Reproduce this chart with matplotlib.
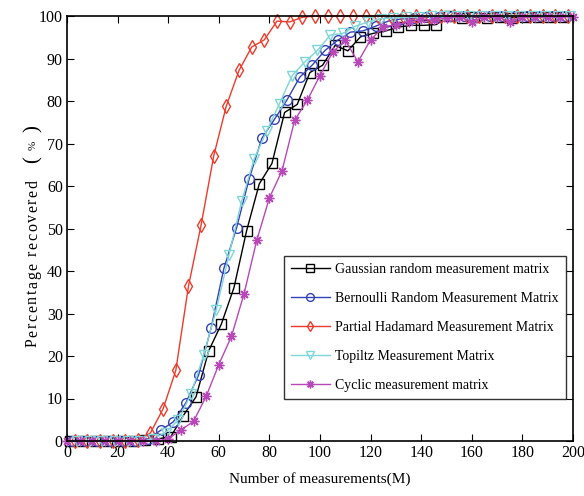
import matplotlib
matplotlib.use("Agg")
import matplotlib.pyplot as plt
from matplotlib.transforms import IdentityTransform

# ── data ────────────────────────────────────────────────────────────────────
m_gauss = [1, 6, 11, 16, 21, 26, 31, 36, 41, 46, 51, 56, 61, 66, 71, 76, 81, 86, 91, 96,
           101, 106, 111, 116, 121, 126, 131, 136, 141, 146, 151, 156, 161, 166, 171, 176,
           181, 186, 191, 196]
gauss = [0, 0, 0, 0, 0, 0, 0.3, 0.5, 1, 6, 10.4, 21.2, 27.5, 36.1, 49.5, 60.5, 65.3, 77.3,
         79.2, 86.7, 88.4, 93.1, 91.8, 95.1, 95.9, 96.5, 97.4, 97.8, 97.8, 98, 100, 99.6,
         99.8, 99.6, 99.8, 99.6, 99.8, 99.8, 99.8, 99.8]

m_bern = [2, 7, 12, 17, 22, 27, 32, 37, 42, 47, 52, 57, 62, 67, 72, 77, 82, 87, 92, 97,
          102, 107, 112, 117, 122, 127, 132, 137, 142, 147, 152, 157, 162, 167, 172, 177,
          182, 187, 192, 197]
bern = [0, 0, 0, 0, 0, 0, 0.5, 2.5, 4.5, 9, 15.5, 26.7, 40.6, 50.1, 61.7, 71.2, 75.7, 80.3,
        85.6, 88.5, 91.9, 94.3, 96.2, 96.5, 97.6, 98.8, 99.3, 99.5, 99.7, 99.7, 100, 100,
        99.7, 100, 100, 100, 100, 100, 100, 100]

m_hada = [3, 8, 13, 18, 23, 28, 33, 38, 43, 48, 53, 58, 63, 68, 73, 78, 83, 88, 93, 98,
          103, 108, 113, 118, 123, 128, 133, 138, 143, 148, 153, 158, 163, 168, 173, 178,
          183, 188, 193, 198]
hada = [0, 0, 0, 0, 0, 0.3, 1.9, 7.6, 16.6, 36.4, 50.8, 67.1, 78.9, 87.2, 92.7, 94.4, 98.8,
        98.6, 99.7, 100, 100, 100, 100, 100, 100, 100, 100, 100, 100, 100, 100, 100, 100,
        100, 100, 100, 100, 100, 100, 100]

m_toep = [4, 9, 14, 19, 24, 29, 34, 39, 44, 49, 54, 59, 64, 69, 74, 79, 84, 89, 94, 99,
          104, 109, 114, 119, 124, 129, 134, 139, 144, 149, 154, 159, 164, 169, 174, 179,
          184, 189, 194, 199]
toep = [0, 0, 0, 0, 0, 0, 0.5, 2, 5, 11, 20.2, 30.9, 43.7, 56.4, 66.4, 73, 79.4, 86, 89.2,
        91.9, 95.5, 95.9, 97.6, 98.6, 99.4, 99.5, 99.7, 99.8, 100, 100, 100, 100, 100, 100,
        100, 100, 100, 100, 100, 100]

m_cyc = [0, 5, 10, 15, 20, 25, 30, 35, 40, 45, 50, 55, 60, 65, 70, 75, 80, 85, 90, 95, 100,
         105, 110, 115, 120, 125, 130, 135, 140, 145, 150, 155, 160, 165, 170, 175, 180,
         185, 190, 195, 200]
cyc = [0, 0, 0, 0, 0, 0, 0, 0, 0.5, 2.6, 4.6, 10.5, 18, 24.6, 34.7, 47.2, 57.2, 63.6, 75.5,
       80.2, 86, 91.5, 94.3, 89.2, 94.4, 97.4, 98, 98.6, 99.2, 99, 99.6, 99.8, 98.6, 99.8,
       99.8, 98.6, 99.8, 99.8, 99.8, 99.8, 99.8]

series = [
    (m_gauss, gauss, "k",       "s",       "Gaussian random measurement matrix"),
    (m_bern,  bern,  "#3343b5", "o",       "Bernoulli Random Measurement Matrix"),
    (m_hada,  hada,  "#ec3b2c", "d",       "Partial Hadamard Measurement Matrix"),
    (m_toep,  toep,  "#7fd6d6", "v",       "Topiltz Measurement Matrix"),
    (m_cyc,   cyc,   "#b848b8", (8, 2, 0), "Cyclic measurement matrix"),
]

plt.rcParams["font.family"] = ["Liberation Serif", "DejaVu Serif"]

fig = plt.figure(figsize=(5.84, 4.96), dpi=100)
ax = fig.add_axes([67 / 584, 1 - 441 / 496, 506 / 584, 425 / 496])

for xs, ys, color, marker, label in series:
    ax.plot(xs, ys, color=color, marker=marker, markersize=7, linewidth=1,
            markerfacecolor="none", markeredgecolor=color, markeredgewidth=1,
            label=label, clip_on=False)

ax.set_xlim(0, 200)
ax.set_ylim(0, 100)
ax.set_xticks(range(0, 201, 20))
ax.set_yticks(range(0, 101, 10))
ax.tick_params(direction="in", top=True, right=True, length=5, labelsize=11.5, pad=3)
for s in ax.spines.values():
    s.set_linewidth(1.2)

ax.set_xlabel("Number of measurements(M)", fontsize=11, labelpad=8)

# letter-spaced y label, laid out char by char (pixels from bottom-left)
ylab = "Percentage recovered"
fs = 11.5
renderer = fig.canvas.get_renderer()
widths = []
for ch in ylab:
    if ch == " ":
        widths.append(fs * 100 / 72 * 0.25)
        continue
    t = fig.text(0, 0, ch, fontsize=fs)
    widths.append(t.get_window_extent(renderer).width)
    t.remove()
y0, y1 = 496 - 347, 496 - 180
gap = ((y1 - y0) - sum(widths)) / (len(ylab) - 1)
ypos = y0
for ch, w in zip(ylab, widths):
    if ch != " ":
        fig.text(33, ypos, ch, rotation=90, rotation_mode="anchor", ha="left",
                 va="center", fontsize=fs, transform=IdentityTransform())
    ypos += w + gap

fig.text(33 / 584, 1 - 160 / 496, "(", rotation=90, ha="center", va="center", fontsize=15)
fig.text(33 / 584, 1 - 145 / 496, "%", rotation=90, ha="center", va="center", fontsize=8)
fig.text(33 / 584, 1 - 129 / 496, ")", rotation=90, ha="center", va="center", fontsize=15)

leg = ax.legend(loc="lower right", bbox_to_anchor=(566 / 584, 1 - 399 / 496),
                bbox_transform=fig.transFigure, fontsize=10, frameon=True,
                fancybox=False, edgecolor="k", handlelength=2.8, handletextpad=0.4,
                labelspacing=1.15, borderpad=0.5, borderaxespad=0, markerscale=0.8)
leg.get_frame().set_linewidth(1)

fig.savefig("out.png", dpi=100)
